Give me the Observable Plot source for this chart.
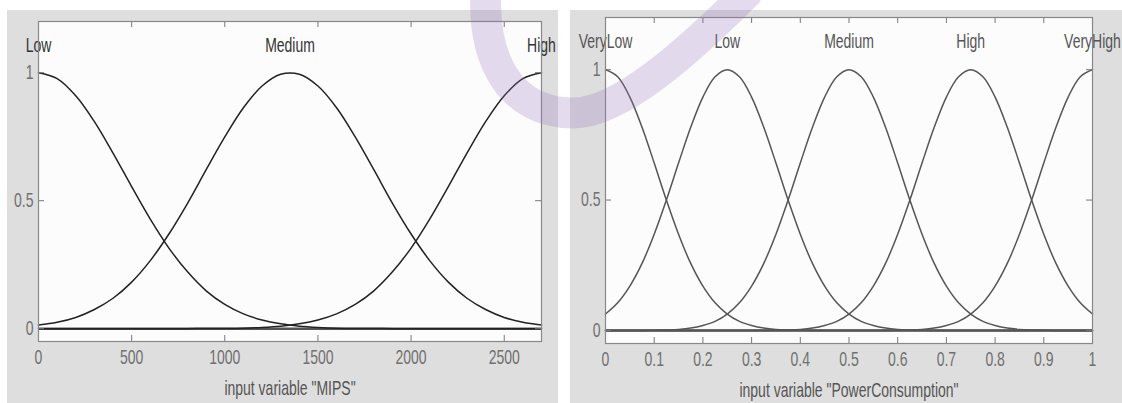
<!DOCTYPE html>
<html><head><meta charset="utf-8">
<script src="https://cdn.jsdelivr.net/npm/d3@7"></script>
<script src="https://cdn.jsdelivr.net/npm/@observablehq/plot@0.6"></script>
<style>
html,body{margin:0;padding:0;background:#fff;}
#wrap{position:relative;width:1122px;height:403px;overflow:hidden;background:#fff;font-family:"Liberation Sans",Arial,sans-serif;}
.panel{position:absolute;background:#dedede;}
#left{left:7px;top:10px;width:551px;height:393px;}
#right{left:570px;top:10px;width:552px;height:393px;}
#wm{position:absolute;left:0;top:0;pointer-events:none;}
</style></head>
<body>
<div id="wrap">
  <div class="panel" id="left"></div>
  <div class="panel" id="right"></div>
  <svg id="wm" width="1122" height="403"><path d="M 486 -10 C 482 60, 510 112, 572 113 C 620 114, 690 50, 750 -10" fill="none" stroke="rgba(150,120,190,0.26)" stroke-width="31"/></svg>
</div>
<script>
// ---- Left chart: input variable "MIPS" ----
const mipsNames = ["Low", "Medium", "High"];
const mipsCenters = [0, 1350, 2700];
const mipsTicks = [0, 500, 1000, 1500, 2000, 2500];
const mipsX = [0,100,200,300,400,500,600,700,800,900,1000,1100,1200,1300,1400,1500,1600,1700,1800,1900,2000,2100,2200,2300,2400,2500,2600,2700];
const mipsLow = [1,.977,.910,.809,.686,.555,.428,.315,.222,.148,.095,.058,.034,.019,.010,.005,.002,.001,.001,0,0,0,0,0,0,0,0,0];
const mipsMedium = [.014,.025,.044,.075,.119,.182,.266,.370,.490,.621,.749,.863,.948,.994,.994,.948,.863,.749,.621,.490,.370,.266,.182,.119,.075,.044,.025,.014];
const mipsHigh = [0,0,0,0,0,0,0,0,0,.001,.001,.002,.005,.010,.019,.034,.058,.095,.148,.222,.315,.428,.555,.686,.809,.910,.977,1];

// ---- Right chart: input variable "PowerConsumption" ----
const powerNames = ["VeryLow", "Low", "Medium", "High", "VeryHigh"];
const powerCenters = [0, 0.25, 0.5, 0.75, 1];
const powerTicks = [0, 0.1, 0.2, 0.3, 0.4, 0.5, 0.6, 0.7, 0.8, 0.9, 1];
const powerX = [0,0.025,0.05,0.075,0.1,0.125,0.15,0.175,0.2,0.225,0.25,0.275,0.3,0.325,0.35,0.375,0.4,0.425,0.45,0.475,0.5,0.525,0.55,0.575,0.6,0.625,0.65,0.675,0.7,0.725,0.75,0.775,0.8,0.825,0.85,0.875,0.9,0.925,0.95,0.975,1];
const powerVeryLow = [1,.973,.895,.779,.642,.500,.369,.257,.170,.106,.063,.035,.019,.009,.004,.002,.001,0,0,0,0,0,0,0,0,0,0,0,0,0,0,0,0,0,0,0,0,0,0,0,0];
const powerLow = [.063,.106,.170,.257,.369,.500,.642,.779,.895,.973,1,.973,.895,.779,.642,.500,.369,.257,.170,.106,.063,.035,.019,.009,.004,.002,.001,0,0,0,0,0,0,0,0,0,0,0,0,0,0];
const powerMedium = [0,0,0,0,.001,.002,.004,.009,.019,.035,.063,.106,.170,.257,.369,.500,.642,.779,.895,.973,1,.973,.895,.779,.642,.500,.369,.257,.170,.106,.063,.035,.019,.009,.004,.002,.001,0,0,0,0];
const powerHigh = [0,0,0,0,0,0,0,0,0,0,0,0,0,0,.001,.002,.004,.009,.019,.035,.063,.106,.170,.257,.369,.500,.642,.779,.895,.973,1,.973,.895,.779,.642,.500,.369,.257,.170,.106,.063];
const powerVeryHigh = [0,0,0,0,0,0,0,0,0,0,0,0,0,0,0,0,0,0,0,0,0,0,0,0,.001,.002,.004,.009,.019,.035,.063,.106,.170,.257,.369,.500,.642,.779,.895,.973,1];

const yTicks = [0, 0.5, 1];

function tidy(names, xs, series) {
  const out = [];
  names.forEach((name, k) => xs.forEach((x, i) => out.push({name, x, y: series[k][i]})));
  return out;
}

// narrow the glyphs horizontally around each text's own anchor (MATLAB-like condensed look)
function condense(svg, k) {
  svg.querySelectorAll("text").forEach(t => {
    const x = +t.getAttribute("x") || 0, y = +t.getAttribute("y") || 0;
    const tr = t.getAttribute("transform") || "";
    t.setAttribute("transform", `${tr} translate(${x},${y}) scale(${k},1) translate(${-x},${-y})`);
  });
  return svg;
}

function mfChart({names, centers, xs, series, ticks, domain, title, width, height, mt, mr, mb, ml, lineColor, labelColor, titleDy}) {
  const plotW = width - ml - mr, plotH = height - mt - mb;
  const data = tidy(names, xs, series);
  const sets = names.map((name, i) => ({name, center: centers[i]}));
  const svg = Plot.plot({
    width, height,
    marginTop: mt, marginRight: mr, marginBottom: mb, marginLeft: ml,
    style: {background: "transparent", fontFamily: '"Liberation Sans",Arial,sans-serif', fontSize: "20px", color: "#666", overflow: "visible"},
    x: {domain, ticks, tickFormat: d => String(d)},
    y: {domain: [-0.05, 1.2], ticks: yTicks, tickFormat: d => String(d)},
    marks: [
      Plot.frame({fill: "#fcfcfc", stroke: null}),
      Plot.ruleY([0], {stroke: "#555", strokeWidth: 2.5}),
      Plot.line(data, {x: "x", y: "y", z: "name", stroke: lineColor, strokeWidth: 1.5, curve: "catmull-rom"}),
      Plot.tickX(ticks, {x: d => d, insetTop: plotH - 6, stroke: "#777"}),
      Plot.tickX(ticks, {x: d => d, insetBottom: plotH - 6, stroke: "#777"}),
      Plot.tickY(yTicks, {y: d => d, insetRight: plotW - 6, stroke: "#777"}),
      Plot.tickY(yTicks, {y: d => d, insetLeft: plotW - 6, stroke: "#777"}),
      Plot.axisX({ticks, tickSize: 0, tickPadding: 8, tickFormat: d => String(d), fill: "#707070", fontSize: 20, label: null}),
      Plot.axisY({ticks: yTicks, tickSize: 0, tickPadding: 5, tickFormat: d => String(d), fill: "#707070", fontSize: 20, label: null}),
      Plot.text(sets, {x: "center", text: "name", frameAnchor: "top", lineAnchor: "middle", dy: 24, fill: labelColor, fontSize: 20}),
      Plot.text([title], {text: d => d, frameAnchor: "bottom", lineAnchor: "middle", dy: titleDy, fill: "#555", fontSize: 20}),
      Plot.frame({stroke: "#888", strokeWidth: 1.2})
    ]
  });
  return condense(svg, 0.7);
}

document.getElementById("left").appendChild(mfChart({
  names: mipsNames, centers: mipsCenters, xs: mipsX,
  series: [mipsLow, mipsMedium, mipsHigh],
  ticks: mipsTicks, domain: [0, 2700], title: 'input variable "MIPS"',
  width: 551, height: 393, mt: 11, mr: 17, mb: 62, ml: 31,
  lineColor: "#222", labelColor: "#333", titleDy: 47
}));

document.getElementById("right").appendChild(mfChart({
  names: powerNames, centers: powerCenters, xs: powerX,
  series: [powerVeryLow, powerLow, powerMedium, powerHigh, powerVeryHigh],
  ticks: powerTicks, domain: [0, 1], title: 'input variable "PowerConsumption"',
  width: 552, height: 393, mt: 7, mr: 30, mb: 60, ml: 35,
  lineColor: "#555", labelColor: "#555", titleDy: 47
}));
</script>
</body></html>
